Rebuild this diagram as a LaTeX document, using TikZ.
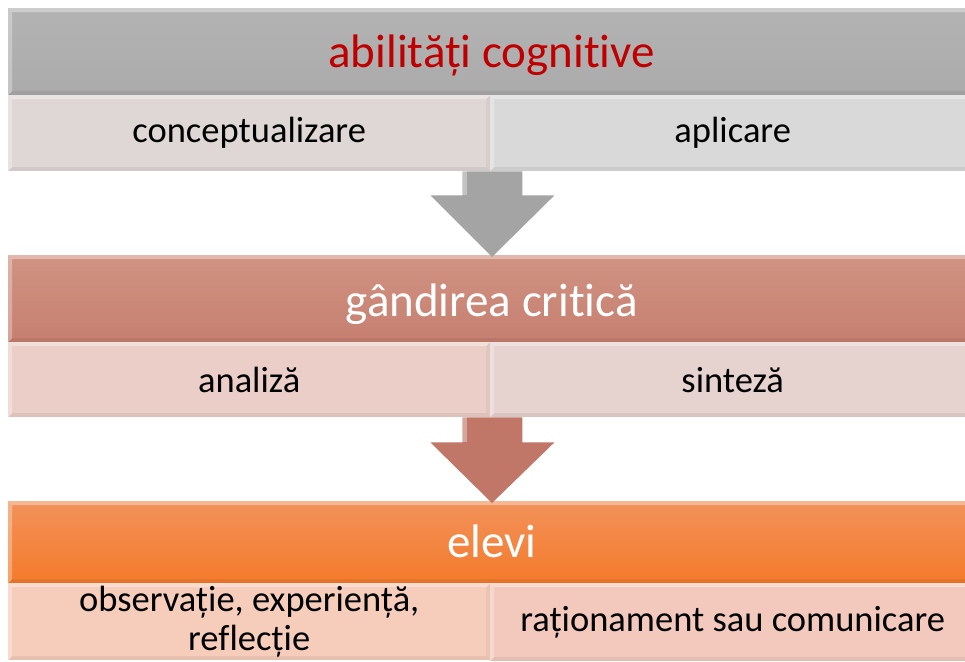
\documentclass[tikz,border=0pt]{standalone}
\usepackage{fontspec}
\setmainfont{Carlito}[Ligatures=NoCommon]
\usetikzlibrary{calc}
\definecolor{grayband}{HTML}{ABABAB}
\definecolor{graybandtop}{HTML}{B3B3B3}
\definecolor{subAl}{HTML}{DFD6D6}
\definecolor{subAr}{HTML}{D9D9D9}
\definecolor{arrowA}{HTML}{A4A4A4}
\definecolor{redband}{HTML}{C67F70}
\definecolor{redbandtop}{HTML}{D09383}
\definecolor{subBl}{HTML}{EBCEC7}
\definecolor{subBr}{HTML}{E6D2CF}
\definecolor{arrowB}{HTML}{C17767}
\definecolor{orangeband}{HTML}{F47A2B}
\definecolor{orangebandtop}{HTML}{F2925A}
\definecolor{subCl}{HTML}{F6CCBB}
\definecolor{subCr}{HTML}{F2C9BC}
\definecolor{titlered}{HTML}{C00000}
\tikzset{
  bevel/.style={path picture={
    \fill[white,opacity=.35] (path picture bounding box.north west) -- (path picture bounding box.north east)
      -- ([xshift=-4pt,yshift=-4pt]path picture bounding box.north east) -- ([xshift=4pt,yshift=-4pt]path picture bounding box.north west) -- cycle;
    \fill[white,opacity=.3] (path picture bounding box.north west) -- ([xshift=4pt,yshift=-4pt]path picture bounding box.north west)
      -- ([xshift=4pt,yshift=4pt]path picture bounding box.south west) -- (path picture bounding box.south west) -- cycle;
    \fill[black,opacity=.06] (path picture bounding box.south west) -- ([xshift=4pt,yshift=4pt]path picture bounding box.south west)
      -- ([xshift=-4pt,yshift=4pt]path picture bounding box.south east) -- (path picture bounding box.south east) -- cycle;
    \fill[black,opacity=.04] (path picture bounding box.north east) -- ([xshift=-4pt,yshift=-4pt]path picture bounding box.north east)
      -- ([xshift=-4pt,yshift=4pt]path picture bounding box.south east) -- (path picture bounding box.south east) -- cycle;
  }},
  band/.style={rectangle, inner sep=0pt, anchor=north west, minimum width=967pt,
    text height=40pt, text depth=9pt,
    font=\fontsize{47}{56}\selectfont, bevel},
  subbox/.style={rectangle, inner sep=0pt, anchor=north west, align=center,
    font=\fontsize{36.5}{39}\selectfont, bevel},
  blockarrow/.style={draw=none}
}
\begin{document}
\begin{tikzpicture}[x=1pt,y=-1pt]
\useasboundingbox (0,0) rectangle (965,661);
\clip (0,0) rectangle (965,661);
\fill[white] (0,0) rectangle (965,661);
% level 1
\node[band, minimum height=87pt, top color=graybandtop, bottom color=grayband, text=titlered] (b1) at (8,8) {abilități cognitive};
\node[subbox, minimum width=482pt, minimum height=76pt, fill=subAl] (s1l) at (8,95) {conceptualizare};
\node[subbox, minimum width=485pt, minimum height=76pt, fill=subAr] (s1r) at (490,95) {aplicare};
% level 2
\node[band, minimum height=87pt, top color=redbandtop, bottom color=redband, text=white, text height=44pt, text depth=8pt] (b2) at (8,255) {gândirea critică};
\node[subbox, minimum width=482pt, minimum height=75pt, fill=subBl] (s2l) at (8,342) {analiză};
\node[subbox, minimum width=485pt, minimum height=75pt, fill=subBr] (s2r) at (490,342) {sinteză};
% level 3
\node[band, minimum height=82pt, top color=orangebandtop, bottom color=orangeband, text=white] (b3) at (8,501) {elevi};
\node[subbox, minimum width=482pt, minimum height=77pt, fill=subCl] (s3l) at (8,583) {observație, experiență,\\reflecție};
\node[subbox, minimum width=485pt, minimum height=78pt, fill=subCr] (s3r) at (490,583) {raționament sau comunicare};
% arrows
\coordinate (a1s) at ($(s1l.south east)+(-28pt,0pt)$);
\coordinate (a1t) at ($(b2.north west)+(484pt,-2pt)$);
\fill[arrowA, blockarrow] (a1s) -- ++(60pt,0pt) -- ++(0pt,-24pt) -- ++(32pt,0pt) -- (a1t) -- ($(a1s)+(-32pt,-24pt)$) -- ++(32pt,0pt) -- cycle;
\fill[white,opacity=.35] (a1s) -- ++(5pt,0pt) -- ++(0pt,-24pt) -- ++(-5pt,0pt) -- cycle;
\coordinate (a2s) at ($(s2l.south east)+(-28pt,0pt)$);
\coordinate (a2t) at ($(b3.north west)+(484pt,-2pt)$);
\fill[arrowB, blockarrow] (a2s) -- ++(60pt,0pt) -- ++(0pt,-25pt) -- ++(32pt,0pt) -- (a2t) -- ($(a2s)+(-32pt,-25pt)$) -- ++(32pt,0pt) -- cycle;
\fill[white,opacity=.35] (a2s) -- ++(5pt,0pt) -- ++(0pt,-25pt) -- ++(-5pt,0pt) -- cycle;
\end{tikzpicture}
\end{document}
